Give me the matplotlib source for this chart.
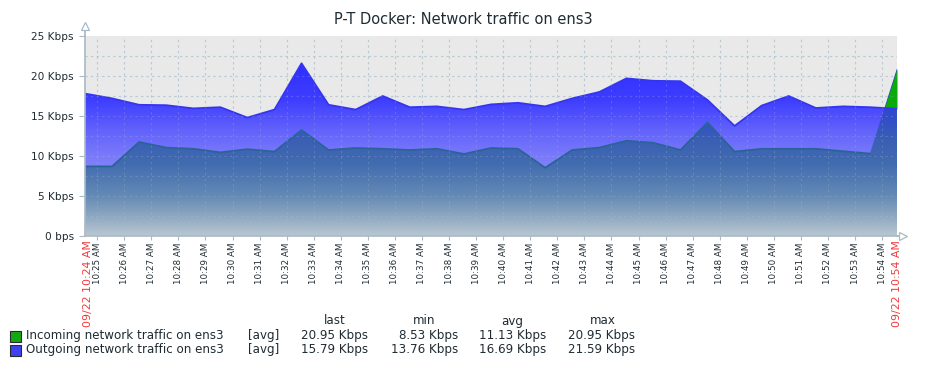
import numpy as np
import matplotlib
matplotlib.use("Agg")
import matplotlib.pyplot as plt
from matplotlib.patches import Rectangle
from matplotlib.transforms import blended_transform_factory

# sample times, minutes after 10:24
times = np.arange(31) + 0.55
# Kbps
incoming = [8.7, 8.7, 11.75, 11.05, 10.9, 10.45, 10.85, 10.55, 13.25, 10.75,
            11.0, 10.9, 10.75, 10.9, 10.25, 11.0, 10.9, 8.53, 10.75, 11.05,
            11.9, 11.65, 10.75, 14.2, 10.55, 10.9, 10.9, 10.9, 10.6, 10.3, 20.95]
outgoing = [17.8, 17.2, 16.4, 16.35, 15.95, 16.1, 14.8, 15.8, 21.59, 16.4,
            15.8, 17.5, 16.1, 16.2, 15.8, 16.45, 16.65, 16.2, 17.2, 18.0,
            19.7, 19.4, 19.35, 17.0, 13.76, 16.3, 17.5, 16.0, 16.2, 16.1, 15.9]

tick_pos = list(range(1, 31))
tick_labels = ["10:%02d AM" % (24 + m) for m in tick_pos]
y_ticks = [0, 5, 10, 15, 20, 25]
y_labels = ["0 bps", "5 Kbps", "10 Kbps", "15 Kbps", "20 Kbps", "25 Kbps"]

legend_names = ["Incoming network traffic on ens3", "Outgoing network traffic on ens3"]
legend_colors = ["#13a813", "#4040f0"]
legend_stats = [["20.95 Kbps", "8.53 Kbps", "11.13 Kbps", "20.95 Kbps"],
                ["15.79 Kbps", "13.76 Kbps", "16.69 Kbps", "21.59 Kbps"]]
stat_heads = ["last", "min", "avg", "max"]

W, H = 928, 368
fx = lambda x: x / W
fy = lambda y: 1 - y / H
txt = "#1f2c33"

fig = plt.figure(figsize=(9.28, 3.68), dpi=100)
ax = fig.add_axes([fx(85), fy(236), fx(897) - fx(85), (236 - 36) / H])
ax.set_facecolor("#e9e9e9")
t0, t1 = times[0], times[-1]
ax.set_xlim(t0, t1)
ax.set_ylim(0, 25)


def grad(stops):
    v = np.linspace(0, 25, 500)
    vals = np.array([s[0] for s in stops], dtype=float)
    cols = np.array([s[1] for s in stops], dtype=float) / 255
    rgb = np.stack([np.interp(v, vals, cols[:, i]) for i in range(3)], axis=1)
    return rgb[::-1, None, :]


upper = grad([(0, (135, 135, 250)), (8, (132, 132, 250)), (10, (122, 122, 250)),
              (13, (100, 100, 252)), (17, (62, 62, 255)), (21, (48, 48, 255)), (25, (45, 45, 255))])
lower = grad([(0, (185, 200, 210)), (2, (150, 173, 196)), (5, (100, 138, 181)),
              (9, (66, 108, 176)), (12, (58, 95, 180)), (14, (52, 82, 196)), (17, (45, 65, 215)), (25, (40, 55, 225))])

p_out = ax.fill_between(times, 0, outgoing, color="none", lw=0)
im1 = ax.imshow(upper, extent=[t0, t1, 0, 25], aspect="auto", zorder=1)
im1.set_clip_path(p_out.get_paths()[0], transform=ax.transData)

p_in = ax.fill_between(times, 0, incoming, color="none", lw=0)
im2 = ax.imshow(lower, extent=[t0, t1, 0, 25], aspect="auto", zorder=2)
im2.set_clip_path(p_in.get_paths()[0], transform=ax.transData)

inc = np.array(incoming)
out = np.array(outgoing)
ax.fill_between(times, out, inc, where=inc > out, interpolate=True,
                color="#0aaa0a", lw=0, zorder=3)

ax.plot(times, outgoing, color="#3535f0", lw=1.3, zorder=4)
ax.plot(times[:30], incoming[:30], color="#2a6496", lw=1.3, zorder=4)

# grid: clear on background, faint over the filled areas
for yv in np.arange(2.5, 25, 2.5):
    ax.axhline(yv, color="#bccbd4", lw=0.8, ls=(0, (2, 3)), zorder=0.5)
    ax.axhline(yv, color="#b0c4cf", lw=0.8, ls=(0, (2, 3)), alpha=0.25, zorder=5)
for xv in tick_pos + [t1]:
    ax.axvline(xv, color="#bccbd4", lw=0.8, ls=(0, (2, 3)), zorder=0.5)
    ax.axvline(xv, color="#b0c4cf", lw=0.8, ls=(0, (2, 3)), alpha=0.25, zorder=5)

for s in ["top", "right"]:
    ax.spines[s].set_visible(False)
for s in ["left", "bottom"]:
    ax.spines[s].set_color("#aab9c3")
    ax.spines[s].set_linewidth(1.2)
    ax.spines[s].set_zorder(6)

ax.set_yticks(y_ticks)
ax.set_yticklabels(y_labels, fontsize=7.6, color=txt)
ax.set_xticks(tick_pos)
ax.set_xticklabels(tick_labels, rotation=90, fontsize=6.3, color=txt, va="top")
ax.tick_params(axis="y", length=4, width=0.8, color="#aab9c3", pad=4)
ax.tick_params(axis="x", length=3, width=0.8, color="#aab9c3", pad=2)

# axis arrows
ax.plot([0], [1.05], transform=ax.transAxes, marker="^", ms=6, mfc="white",
        mec="#aab9c3", mew=0.9, clip_on=False, zorder=7)
ax.plot([0, 0], [1.0, 1.04], transform=ax.transAxes, color="#aab9c3", lw=1.2, clip_on=False)
ax.plot([1.0, 1.008], [0, 0], transform=ax.transAxes, color="#aab9c3", lw=1.2, clip_on=False)
ax.plot([1.008], [0], transform=ax.transAxes, marker=">", ms=6, mfc="white",
        mec="#aab9c3", mew=0.9, clip_on=False, zorder=7)

tr = blended_transform_factory(ax.transData, ax.transAxes)
ax.text(t0 + 0.1, -0.02, "09/22 10:24 AM", transform=tr, rotation=90, ha="center",
        va="top", fontsize=7.9, color="#f03c3c")
ax.text(t1, -0.02, "09/22 10:54 AM", transform=tr, rotation=90, ha="center",
        va="top", fontsize=7.9, color="#f03c3c")

fig.text(0.499, fy(19), "P-T Docker: Network traffic on ens3", ha="center", va="center",
         fontsize=10.5, color=txt)

# legend
head_x = [335, 424, 512, 603]
val_x = [368, 458, 546, 635]
lf = 8.6
for hx, h in zip(head_x, stat_heads):
    fig.text(fx(hx), fy(321), h, ha="center", va="center", fontsize=lf, color=txt)
for i, (name, col, stats) in enumerate(zip(legend_names, legend_colors, legend_stats)):
    yc = 336 + 14 * i
    fig.add_artist(Rectangle((fx(10), fy(yc + 5.5)), 11 / W, 11 / H, transform=fig.transFigure,
                             facecolor=col, edgecolor="#2a2a2a", lw=0.8))
    fig.text(fx(26), fy(yc), name, ha="left", va="center", fontsize=lf, color=txt)
    fig.text(fx(248), fy(yc), "[avg]", ha="left", va="center", fontsize=lf, color=txt)
    for vx, s in zip(val_x, stats):
        fig.text(fx(vx), fy(yc), s, ha="right", va="center", fontsize=lf, color=txt)

fig.savefig("out.png", dpi=100)
